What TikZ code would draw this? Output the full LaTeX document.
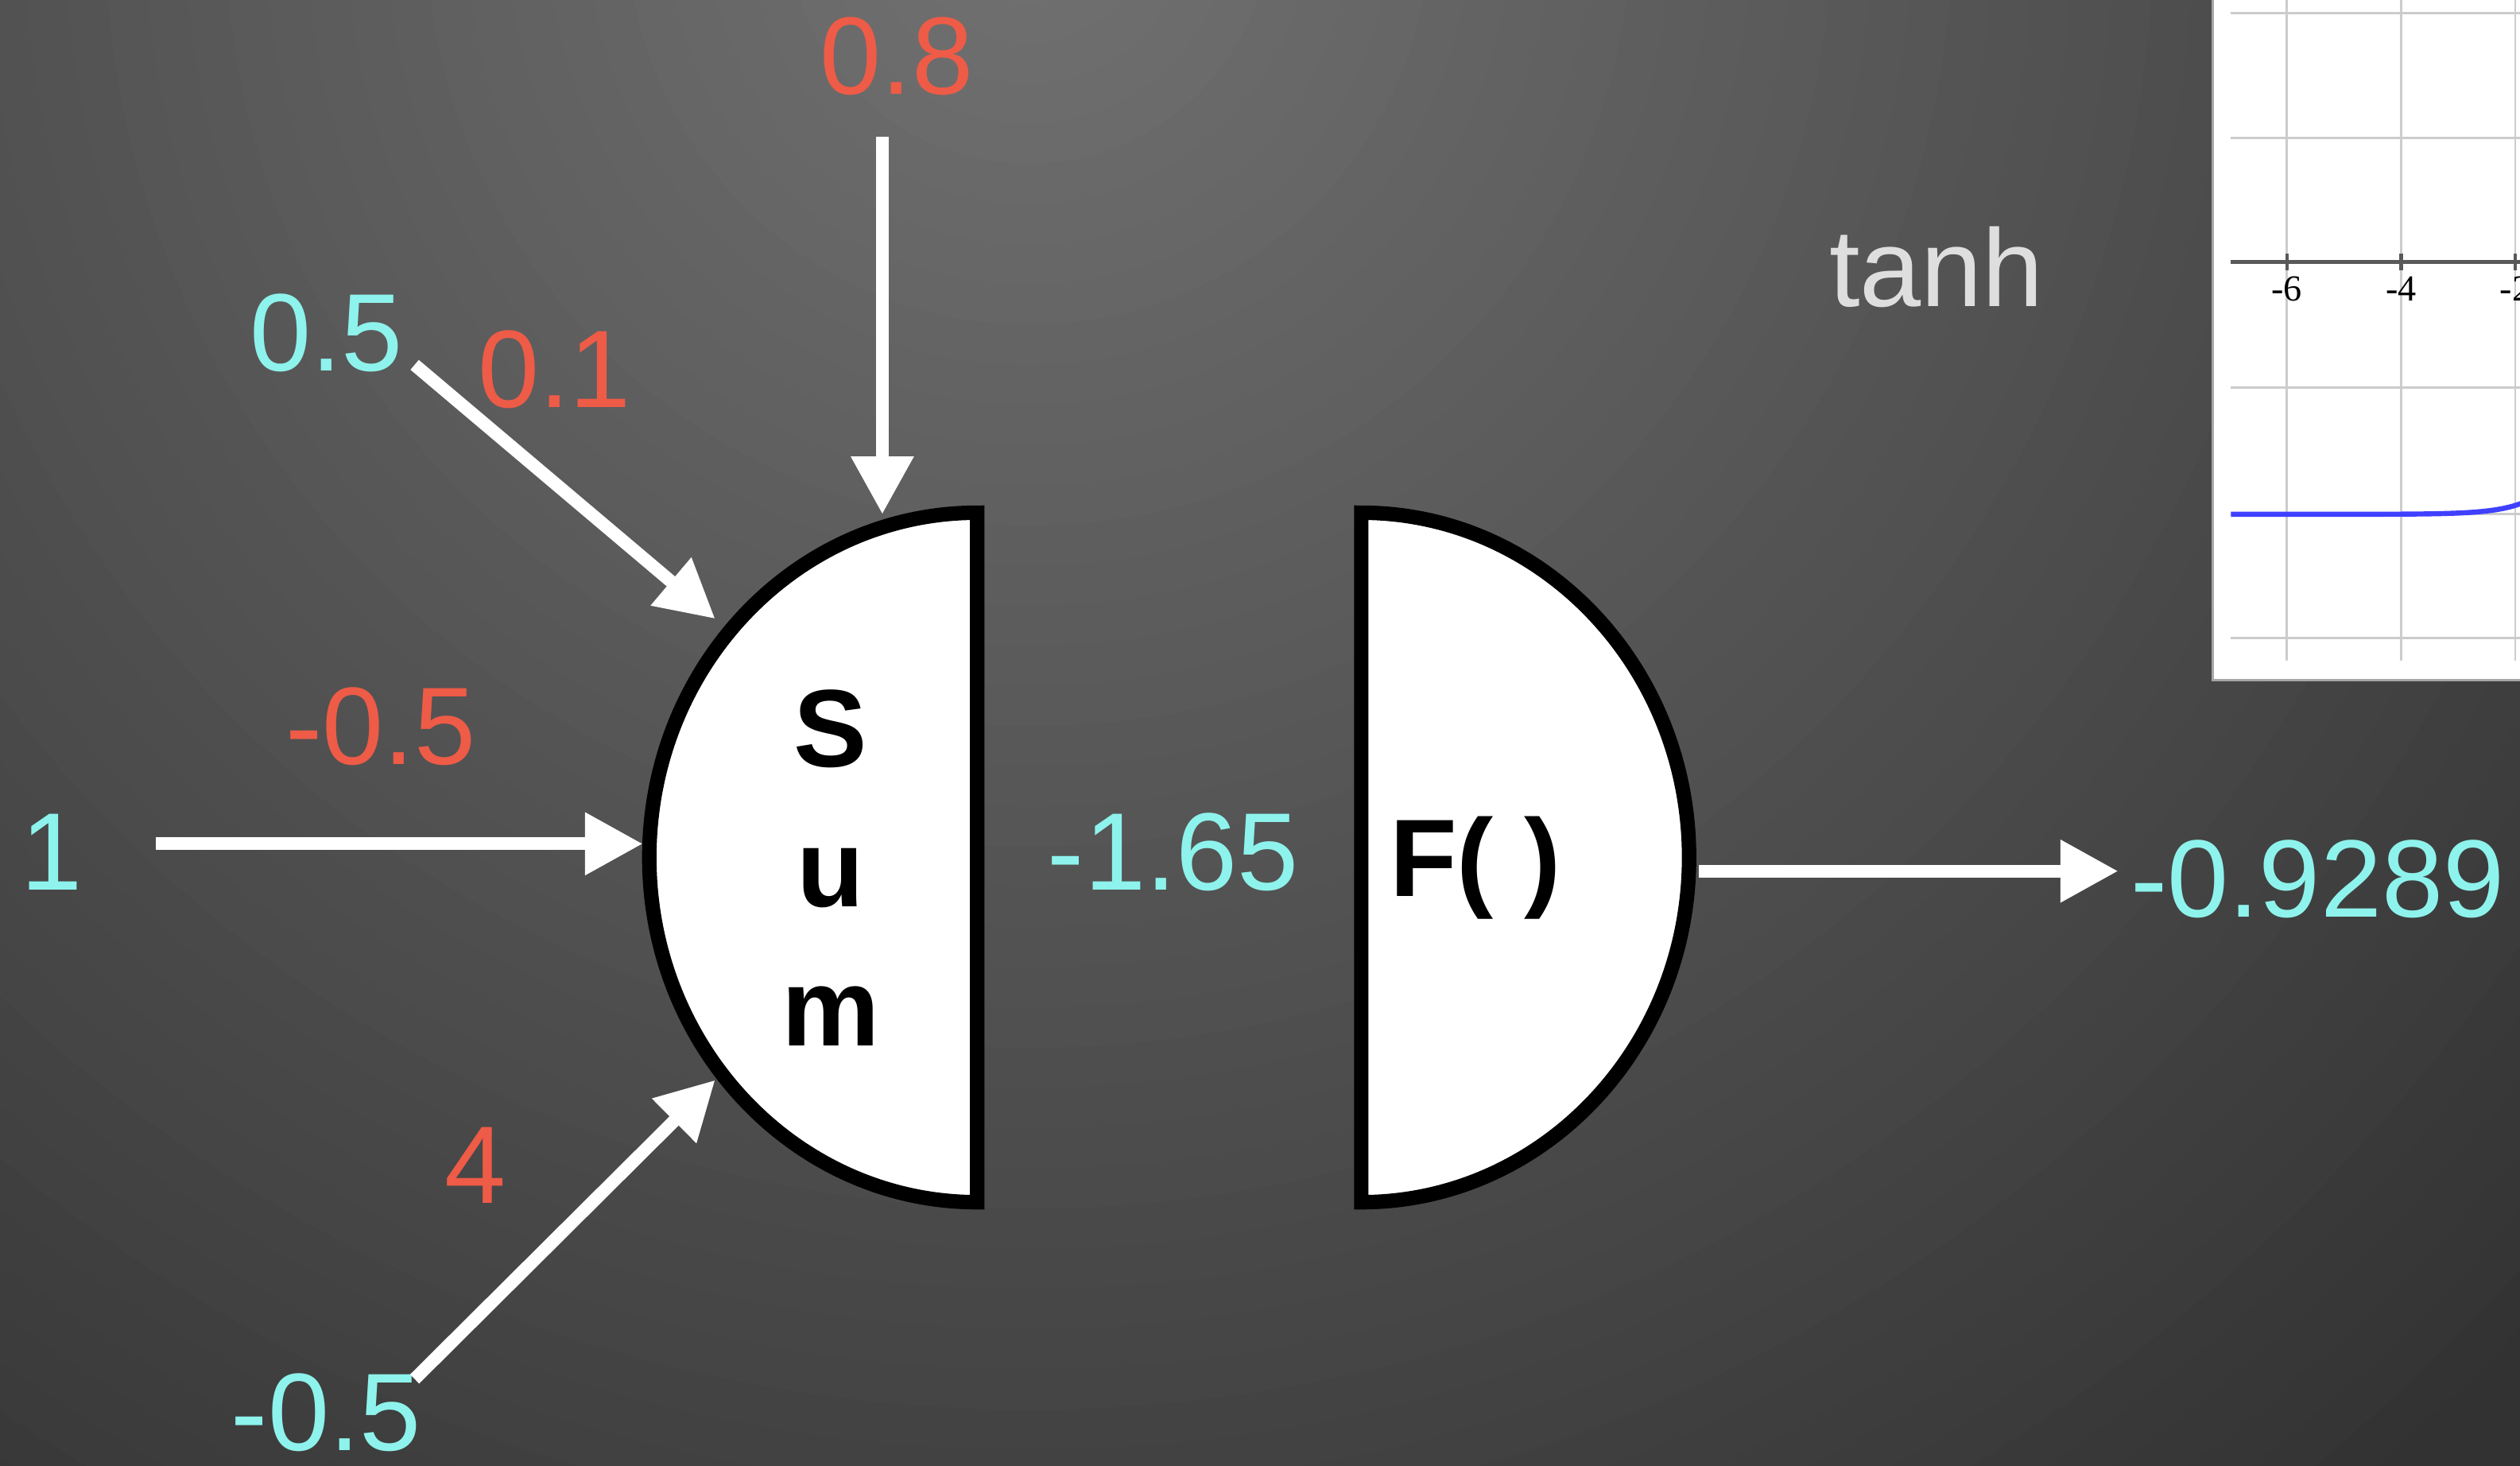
\documentclass[tikz,border=0pt]{standalone}
\usepackage{fontspec}
\setmainfont{Liberation Sans}
\newfontfamily\plotfont{Liberation Serif}
\usetikzlibrary{arrows.meta}
\definecolor{bgin}{HTML}{727272}
\definecolor{bgout}{HTML}{323232}
\definecolor{valcyan}{HTML}{8EF3EC}
\definecolor{wgtred}{HTML}{EE5B47}
\definecolor{fngray}{HTML}{DEDEDE}

\begin{document}
\begin{tikzpicture}[x=0.01cm,y=0.01cm,
  lab/.style={inner sep=0,font=\fontsize{19.5}{23}\selectfont},
  val/.style={lab,valcyan},
  wgt/.style={lab,wgtred},
  arr/.style={white,line width=0.08cm,-{Triangle[length=0.36cm,width=0.37cm]}},
  half/.style={fill=white,draw=black,line width=0.09cm},
  gridline/.style={gray!40,line width=0.4pt}]
  \useasboundingbox (0,0) rectangle (1568,912);
  \clip (0,0) rectangle (1568,912);
  % background: glow from the top, darker towards the corners
  \fill[bgout] (0,0) rectangle (1568,912);
  \foreach \i in {60,...,1} {
    \pgfmathsetmacro\p{max(0,100-25*\i/13)}
    \fill[bgin!\p!bgout] (640,960) circle ({25*\i});
  }

  % tanh plot, cut by the right edge
  \fill[white,draw=gray!70] (1377,489) rectangle (1600,930);
  \foreach \y in {904,826,671,592,515}
    \draw[gridline] (1388,\y) -- (1568,\y);
  \foreach \x in {1423,1494,1565}
    \draw[gridline] (\x,501) -- (\x,912);
  \draw[gray!70!black,line width=0.6pt] (1388,749) -- (1568,749);
  \foreach \x/\t in {1423/-6,1494/-4,1565/-2} {
    \draw[gray!70!black,line width=0.6pt] (\x,744) -- (\x,754);
    \node[font=\plotfont\fontsize{6.5}{7}\selectfont,below,inner sep=1pt]
      at (\x,744) {\t};
  }
  \draw[blue!75,line width=0.9pt] plot[domain=-6.96:-1.7,samples=50]
    ({1494+(\x+4)*35.75},{749+157*tanh(\x)});
  \node[lab,fngray] (fn) at (1205,746) {tanh};

  % the two halves of the neuron
  \draw[half] (608,593) arc[start angle=90,end angle=270,
    x radius=204,y radius=214.5] -- cycle;
  \draw[half] (847,593) arc[start angle=90,end angle=-90,
    x radius=204,y radius=214.5] -- cycle;
  \node[font=\fontsize{19.5}{24.7}\selectfont\bfseries,align=center,
    inner sep=0] (sum) at (517,372) {S\\u\\m};
  \node[font=\fontsize{19.5}{23}\selectfont\bfseries,inner sep=0]
    (act) at (918,372) {F( )};

  % inputs and weights
  \node[wgt] (w0) at (558,877) {0.8};
  \node[val] (x1) at (203,705) {0.5};
  \node[wgt] (w1) at (345,682) {0.1};
  \node[wgt] (w2) at (237,460) {-0.5};
  \node[val] (x2) at (32,382) {1};
  \node[wgt] (w3) at (296,187) {4};
  \node[val] (x3) at (203,33) {-0.5};
  \node[val] (net) at (730,382) {-1.65};
  \node[val] (out) at (1442,365) {-0.9289};

  \coordinate (s0) at (549,827); \coordinate (e0) at (549,592);
  \coordinate (s1) at (258,685); \coordinate (e1) at (445,527);
  \coordinate (s2) at (97,387);  \coordinate (e2) at (400,387);
  \coordinate (s3) at (258,54);  \coordinate (e3) at (445,240);
  \coordinate (s4) at (1057,370); \coordinate (e4) at (1318,370);
  \draw[arr] (s0) -- (e0);
  \draw[arr] (s1) -- (e1);
  \draw[arr] (s2) -- (e2);
  \draw[arr] (s3) -- (e3);
  \draw[arr] (s4) -- (e4);
\end{tikzpicture}
\end{document}
